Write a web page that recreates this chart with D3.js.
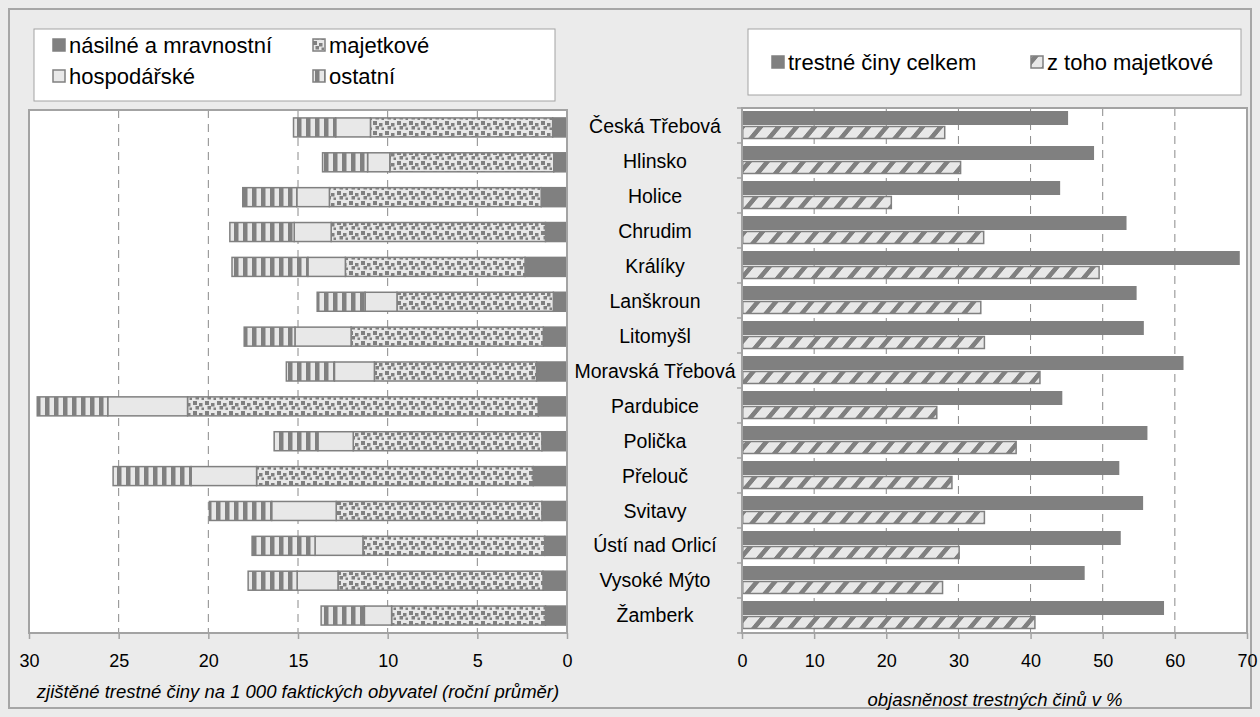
<!DOCTYPE html>
<html>
<head>
<meta charset="utf-8">
<script src="https://cdn.jsdelivr.net/npm/d3@7/dist/d3.min.js"></script>
<style>
  html, body { margin: 0; padding: 0; background: #ebebeb; }
  svg { display: block; font-family: "Liberation Sans", Arial, sans-serif; }
</style>
</head>
<body>
<svg id="chart" width="1260" height="717"></svg>
<script>
// ---------- DATA ----------
const categories = ["Česká Třebová","Hlinsko","Holice","Chrudim","Králíky","Lanškroun","Litomyšl",
  "Moravská Třebová","Pardubice","Polička","Přelouč","Svitavy","Ústí nad Orlicí","Vysoké Mýto","Žamberk"];

// left panel: crimes per 1 000 inhabitants (annual average), stacked
const stackKeys = ["násilné a mravnostní","majetkové","hospodářské","ostatní"];
const violent  = [0.80,0.74,1.44,1.20,2.34,0.76,1.32,1.70,1.60,1.40,1.88,1.40,1.24,1.34,1.20];
const property = [10.16,9.14,11.81,11.95,10.02,8.72,10.72,9.04,19.56,10.52,15.43,11.47,10.14,11.43,8.58];
const economic = [1.94,1.24,1.82,2.06,2.09,1.78,3.13,2.23,4.45,1.97,3.65,3.60,2.67,2.28,1.52];
const other    = [2.35,2.51,3.01,3.59,4.23,2.67,2.83,2.68,3.93,2.44,4.35,3.47,3.51,2.73,2.41];

// right panel: clearance rate in %
const rightKeys = ["trestné činy celkem","z toho majetkové"];
const clearTotal    = [45.2,48.8,44.1,53.3,69.0,54.7,55.7,61.2,44.4,56.2,52.3,55.6,52.5,47.5,58.5];
const clearProperty = [28.1,30.3,20.7,33.5,49.5,33.1,33.6,41.3,27.0,38.0,29.1,33.6,30.1,27.8,40.6];

const leftTicks  = [0,5,10,15,20,25,30];
const rightTicks = [0,10,20,30,40,50,60,70];
const leftTitle  = "zjištěné trestné činy na 1 000 faktických obyvatel (roční průměr)";
const rightTitle = "objasněnost trestných činů v %";

// ---------- STYLE ----------
const DARK = "#808080", LIGHT = "#e8e8e8", BORDER = "#a3a3a3", GRID = "#8a8a8a";
const FONT = "Liberation Sans, Arial, sans-serif";

const svg = d3.select("#chart");
const defs = svg.append("defs");

// confetti pattern (majetkové)
const pConf = defs.append("pattern").attr("id","confetti").attr("patternUnits","userSpaceOnUse")
  .attr("width",12).attr("height",10);
pConf.append("rect").attr("width",12).attr("height",10).attr("fill",LIGHT);
[[1,1,4,4],[7,3,3.5,3.5],[3.5,6,3.5,3.5],[9.5,7.5,2.5,2.5]].forEach(r=>{
  pConf.append("rect").attr("x",r[0]).attr("y",r[1]).attr("width",r[2]).attr("height",r[3]).attr("fill",DARK);
});
// vertical stripes (ostatní)
const pVert = defs.append("pattern").attr("id","vstripes").attr("patternUnits","userSpaceOnUse")
  .attr("width",9).attr("height",10);
pVert.append("rect").attr("width",9).attr("height",10).attr("fill",LIGHT);
pVert.append("rect").attr("x",0).attr("width",4.5).attr("height",10).attr("fill",DARK);
// diagonal (z toho majetkové)
const pDiag = defs.append("pattern").attr("id","diag").attr("patternUnits","userSpaceOnUse")
  .attr("width",18).attr("height",20).attr("patternTransform","skewX(-40)");
pDiag.append("rect").attr("width",18).attr("height",20).attr("fill",LIGHT);
pDiag.append("rect").attr("x",0).attr("width",6).attr("height",20).attr("fill",DARK);

const fills = {
  "násilné a mravnostní": DARK,
  "majetkové": "url(#confetti)",
  "hospodářské": LIGHT,
  "ostatní": "url(#vstripes)"
};

// outer frame
svg.append("rect").attr("x",9).attr("y",9).attr("width",1242).attr("height",699)
  .attr("fill","#ebebeb").attr("stroke","#a6a6a6").attr("stroke-width",2);

// ---------- LEFT PANEL ----------
const L = {left:29, right:567, top:110, bottom:633};
const xL = d3.scaleLinear().domain([0,30]).range([L.right, L.left]);
const yL = d3.scaleBand().domain(categories).range([L.top, L.bottom]);

svg.append("rect").attr("x",L.left).attr("y",L.top).attr("width",L.right-L.left).attr("height",L.bottom-L.top)
  .attr("fill","#fff");

// grid
svg.append("g").selectAll("line").data(leftTicks.filter(t=>t>0 && t<30)).join("line")
  .attr("x1",d=>xL(d)).attr("x2",d=>xL(d)).attr("y1",L.top).attr("y2",L.bottom)
  .attr("stroke",GRID).attr("stroke-width",1).attr("stroke-dasharray","8,6");

// stacked bars
const leftRows = categories.map((c,i)=>({cat:c, "násilné a mravnostní":violent[i], "majetkové":property[i],
  "hospodářské":economic[i], "ostatní":other[i]}));
const stacked = d3.stack().keys(stackKeys)(leftRows);
const barHL = 19;
stacked.forEach(layer=>{
  svg.append("g").selectAll("rect").data(layer).join("rect")
    .attr("x",d=>xL(d[1])).attr("width",d=>xL(d[0])-xL(d[1]))
    .attr("y",d=>yL(d.data.cat)+(yL.bandwidth()-barHL)/2).attr("height",barHL)
    .attr("fill",fills[layer.key]).attr("stroke",DARK).attr("stroke-width",1.5);
});

// plot border
svg.append("rect").attr("x",L.left).attr("y",L.top).attr("width",L.right-L.left).attr("height",L.bottom-L.top)
  .attr("fill","none").attr("stroke",BORDER).attr("stroke-width",2);

// x axis
const axL = svg.append("g").attr("transform",`translate(0,${L.bottom})`)
  .call(d3.axisBottom(xL).tickValues(leftTicks).tickSize(6).tickPadding(15).tickFormat(d3.format("d")));
axL.select(".domain").remove();
axL.selectAll("line").attr("stroke",BORDER).attr("stroke-width",1.5);
axL.selectAll("text").attr("font-size",18).attr("fill","#000").attr("font-family",FONT);

svg.append("text").attr("x",(L.left+L.right)/2).attr("y",698).attr("text-anchor","middle")
  .attr("font-size",18.5).attr("font-style","italic").text(leftTitle);

// ---------- RIGHT PANEL ----------
const R = {left:742, right:1247, top:108, bottom:633};
const xR = d3.scaleLinear().domain([0,70]).range([R.left, R.right]);
const yR = d3.scaleBand().domain(categories).range([R.top, R.bottom]);

svg.append("rect").attr("x",R.left).attr("y",R.top).attr("width",R.right-R.left).attr("height",R.bottom-R.top)
  .attr("fill","#fff");
svg.append("g").selectAll("line").data(rightTicks.filter(t=>t>0 && t<70)).join("line")
  .attr("x1",d=>xR(d)).attr("x2",d=>xR(d)).attr("y1",R.top).attr("y2",R.bottom)
  .attr("stroke",GRID).attr("stroke-width",1).attr("stroke-dasharray","8,6");

const barHR = 14;
svg.append("g").selectAll("rect").data(categories).join("rect")
  .attr("x",xR(0)).attr("width",(d,i)=>xR(clearTotal[i])-xR(0))
  .attr("y",d=>yR(d)+yR.bandwidth()/2-barHR-0.5).attr("height",barHR)
  .attr("fill",DARK);
svg.append("g").selectAll("rect").data(categories).join("rect")
  .attr("x",xR(0)+0.75).attr("width",(d,i)=>xR(clearProperty[i])-xR(0)-0.75)
  .attr("y",d=>yR(d)+yR.bandwidth()/2+1).attr("height",barHR-2)
  .attr("fill","url(#diag)").attr("stroke",DARK).attr("stroke-width",1.5);

svg.append("rect").attr("x",R.left).attr("y",R.top).attr("width",R.right-R.left).attr("height",R.bottom-R.top)
  .attr("fill","none").attr("stroke",BORDER).attr("stroke-width",2);

// category ticks on right panel axis
svg.append("g").selectAll("line").data(d3.range(categories.length+1)).join("line")
  .attr("x1",R.left-5).attr("x2",R.left).attr("y1",i=>R.top+i*yR.step()).attr("y2",i=>R.top+i*yR.step())
  .attr("stroke",BORDER).attr("stroke-width",1.5);

const axR = svg.append("g").attr("transform",`translate(0,${R.bottom})`)
  .call(d3.axisBottom(xR).tickValues(rightTicks).tickSize(6).tickPadding(15).tickFormat(d3.format("d")));
axR.select(".domain").remove();
axR.selectAll("line").attr("stroke",BORDER).attr("stroke-width",1.5);
axR.selectAll("text").attr("font-size",18).attr("fill","#000").attr("font-family",FONT);

svg.append("text").attr("x",995).attr("y",706).attr("text-anchor","middle")
  .attr("font-size",18.5).attr("font-style","italic").text(rightTitle);

// ---------- CATEGORY LABELS ----------
svg.append("g").selectAll("text").data(categories).join("text")
  .attr("x",655).attr("y",d=>(yL(d)+yR(d))/2+(yL.bandwidth()+yR.bandwidth())/4)
  .attr("dy","0.35em").attr("text-anchor","middle").attr("font-size",19.5).text(d=>d);

// ---------- LEGENDS ----------
svg.append("rect").attr("x",34).attr("y",29).attr("width",521).attr("height",72)
  .attr("fill","#fff").attr("stroke",BORDER).attr("stroke-width",1);
const legL = [
  {k:"násilné a mravnostní", x:53, y:45},
  {k:"majetkové", x:313, y:45},
  {k:"hospodářské", x:53, y:76},
  {k:"ostatní", x:313, y:76}
];
const gl = svg.append("g").selectAll("g").data(legL).join("g");
gl.append("rect").attr("x",d=>d.x).attr("y",d=>d.y-6).attr("width",12).attr("height",12)
  .attr("fill",d=>fills[d.k]).attr("stroke",DARK).attr("stroke-width",1.5);
gl.append("text").attr("x",d=>d.x+16).attr("y",d=>d.y).attr("dy","0.35em")
  .attr("font-size",22).text(d=>d.k);

svg.append("rect").attr("x",748).attr("y",29).attr("width",493).attr("height",66)
  .attr("fill","#fff").attr("stroke",BORDER).attr("stroke-width",1);
const legR = [
  {k:rightKeys[0], x:772, y:62, f:DARK},
  {k:rightKeys[1], x:1031, y:62, f:"url(#diag)"}
];
const gr = svg.append("g").selectAll("g").data(legR).join("g");
gr.append("rect").attr("x",d=>d.x).attr("y",d=>d.y-6).attr("width",12).attr("height",12)
  .attr("fill",d=>d.f).attr("stroke",DARK).attr("stroke-width",1.5);
gr.append("text").attr("x",d=>d.x+16).attr("y",d=>d.y).attr("dy","0.35em")
  .attr("font-size",22).text(d=>d.k);
</script>
</body>
</html>
